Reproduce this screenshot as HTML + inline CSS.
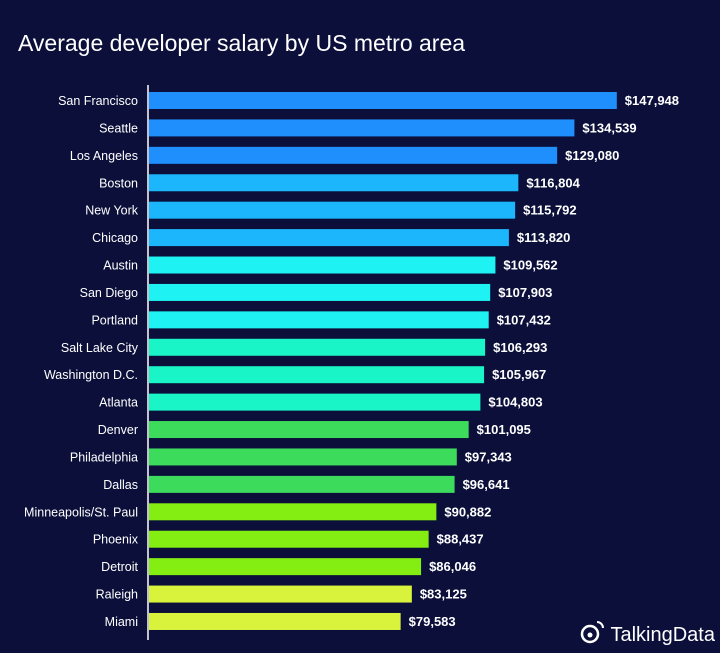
<!DOCTYPE html>
<html><head><meta charset="utf-8"><style>
body{margin:0;width:720px;height:653px;background:#0b0f3a;overflow:hidden;font-family:"Liberation Sans",sans-serif}
svg{display:block}
</style></head><body>
<svg width="720" height="653">
<rect width="720" height="653" fill="#0b0f3a"/>
<text x="18" y="51" fill="#ffffff" font-size="23" font-family="Liberation Sans, sans-serif">Average developer salary by US metro area</text>
<line x1="148" y1="85" x2="148" y2="640" stroke="#ffffff" stroke-width="1.5"/>
<g id="bars"></g>
<text x="715" y="641" text-anchor="end" fill="#ffffff" font-size="20">TalkingData</text>
<circle cx="590" cy="634" r="8" fill="none" stroke="#ffffff" stroke-width="2.5"/>
<circle cx="590" cy="635" r="2.5" fill="#ffffff"/>
<path d="M597 622 a6 6 0 0 1 6 6" fill="none" stroke="#ffffff" stroke-width="2"/>
</svg>
<script>
const cities=["San Francisco","Seattle","Los Angeles","Boston","New York","Chicago","Austin","San Diego","Portland","Salt Lake City","Washington D.C.","Atlanta","Denver","Philadelphia","Dallas","Minneapolis/St. Paul","Phoenix","Detroit","Raleigh","Miami"];
const salaries=[147948,134539,129080,116804,115792,113820,109562,107903,107432,106293,105967,104803,101095,97343,96641,90882,88437,86046,83125,79583];
const colors=["#1e8ffc","#1e8ffc","#1e8ffc","#1bb6fb","#1bb6fb","#1bb6fb","#1ef2f2","#1ef2f2","#1ef2f2","#19f5c6","#19f5c6","#19f5c6","#3cdb5c","#3cdb5c","#3cdb5c","#84ee12","#84ee12","#84ee12","#d9f23c","#d9f23c"];
const x0=149, k=0.003162;
function xScale(v){return x0+v*k;}
function yScale(i){return 92+i*27.42;}
const g=document.getElementById('bars');
const NS="http://www.w3.org/2000/svg";
cities.forEach((c,i)=>{
  const y=yScale(i);
  const r=document.createElementNS(NS,'rect');
  r.setAttribute('x',x0);r.setAttribute('y',y);
  r.setAttribute('width',xScale(salaries[i])-x0);r.setAttribute('height',17);
  r.setAttribute('fill',colors[i]);
  
  
  g.appendChild(r);
  const l=document.createElementNS(NS,'text');
  l.setAttribute('x',138);l.setAttribute('y',y+13);
  l.setAttribute('text-anchor','end');l.setAttribute('fill','#ffffff');l.setAttribute('font-size','12.5');
  l.textContent=c;
  
  
  g.appendChild(l);
  const v=document.createElementNS(NS,'text');
  v.setAttribute('x',xScale(salaries[i])+8);v.setAttribute('y',y+13);
  v.setAttribute('fill','#ffffff');v.setAttribute('font-size','13');v.setAttribute('font-weight','bold');
  v.textContent='$'+salaries[i].toLocaleString('en-US');
  
  
  g.appendChild(v);
});
</script>
</body></html>
